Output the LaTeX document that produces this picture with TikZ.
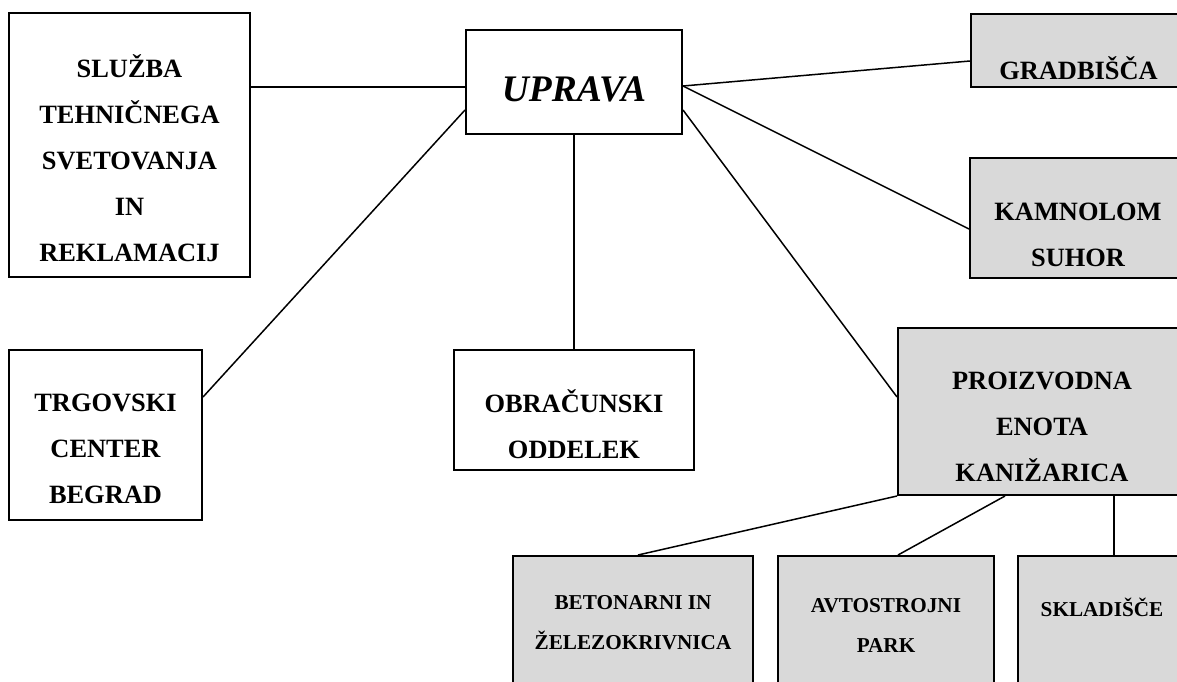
\documentclass[tikz,border=0pt]{standalone}
\usepackage{fontspec}
\setmainfont{Liberation Serif}
\definecolor{boxgray}{RGB}{217,217,217}
\begin{document}
\begin{tikzpicture}[x=1pt,y=-1pt,
  box/.style={draw, line width=2pt, inner sep=0pt, anchor=center},
  unit/.style={box, fill=boxgray},
  lbl/.style={font=\fontsize{26.4}{46}\selectfont\bfseries, align=center, inner sep=0pt},
  lblsmall/.style={font=\fontsize{21.2}{40}\selectfont\bfseries, align=center, inner sep=0pt},
  link/.style={line width=1.5pt}]
\useasboundingbox (0,0) rectangle (1177,682);
\clip (0,0) rectangle (1177,682);

% boxes
\node[box, minimum width=241, minimum height=264] (slz) at (129.5,145) {};
\node[box, minimum width=216, minimum height=104] (upr) at (574,82) {};
\node[box, minimum width=193, minimum height=170] (trg) at (105.5,435) {};
\node[box, minimum width=240, minimum height=120] (obr) at (574,410) {};
\node[unit, minimum width=215, minimum height=73] (grd) at (1078.5,50.5) {};
\node[unit, minimum width=216, minimum height=120] (kam) at (1078,218) {};
\node[unit, minimum width=288, minimum height=167] (pro) at (1042,411.5) {};
\node[unit, minimum width=240, minimum height=154] (bet) at (633,633) {};
\node[unit, minimum width=216, minimum height=154] (avt) at (886,633) {};
\node[unit, minimum width=168, minimum height=154] (skl) at (1102,633) {};

% labels
\node[lbl] (slzT) at (129.5,158) {SLUŽBA\\TEHNIČNEGA\\SVETOVANJA\\IN\\REKLAMACIJ};
\node[inner sep=0pt, font=\fontsize{37.5}{40}\selectfont\bfseries\itshape] (uprT) at (574,89) {UPRAVA};
\node[lbl] (trgT) at (105.5,449) {TRGOVSKI\\CENTER\\BEGRAD};
\node[lbl] (obrT) at (574,424) {OBRAČUNSKI\\ODDELEK};
\node[lbl] (grdT) at (1078.5,68) {GRADBIŠČA};
\node[lbl] (kamT) at (1078,235) {KAMNOLOM\\SUHOR};
\node[lbl] (proT) at (1042,427) {PROIZVODNA\\ENOTA\\KANIŽARICA};
\node[lblsmall] (betT) at (633,623) {BETONARNI IN\\ŽELEZOKRIVNICA};
\node[lblsmall] (avtT) at (886,625) {AVTOSTROJNI\\PARK};
\node[lblsmall] (sklT) at (1102,607) {SKLADIŠČE};

% connectors
\draw[link] (slz.east |- 0,87) -- (upr.west |- 0,87);
\draw[link] (upr.west |- 0,110) -- (trg.east |- 0,397);
\draw[link] (upr.south) -- (obr.north);
\draw[link] (upr.east |- 0,86) -- (grd.west |- 0,61);
\draw[link] (upr.east |- 0,86) -- (kam.west |- 0,229);
\draw[link] (upr.east |- 0,110) -- (pro.west |- 0,397);
\draw[link] (pro.south west) -- (bet.north -| 638,0);
\draw[link] (pro.south -| 1005,0) -- (avt.north -| 898,0);
\draw[link] (pro.south -| 1114,0) -- (skl.north -| 1114,0);
\end{tikzpicture}
\end{document}
